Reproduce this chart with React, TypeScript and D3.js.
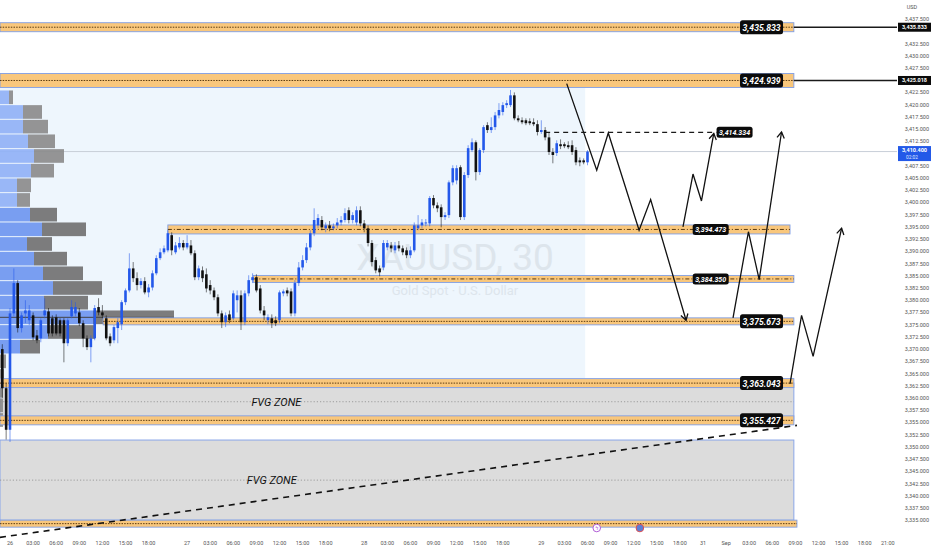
import React from 'react';
import * as d3 from 'd3';

const W = 932;
const H = 550;
const PLOT_RIGHT = 897;
const PLOT_BOTTOM = 533;

// 30 minute XAUUSD bars [open, high, low, close]; first bar starts at trading hour -1
const firstBarHour = -1;
const barHours = 0.5;
const candles: [number, number, number, number][] = [
  [3370.0, 3371.0, 3360.0, 3362.0], [3362.0, 3363.0, 3351.5, 3353.5], [3353.5, 3378.4, 3351.0, 3377.3],
  [3377.3, 3386.5, 3376.7, 3383.5], [3383.5, 3384.1, 3373.4, 3374.3], [3374.3, 3377.5, 3373.4, 3376.9],
  [3377.3, 3380.0, 3375.3, 3377.9], [3375.9, 3379.0, 3374.9, 3377.9], [3376.9, 3377.5, 3371.8, 3372.4],
  [3372.8, 3373.9, 3371.2, 3371.8], [3372.2, 3376.3, 3371.4, 3375.9], [3376.9, 3380.4, 3376.3, 3377.9],
  [3377.7, 3378.4, 3372.6, 3373.2], [3376.3, 3376.9, 3372.6, 3373.2], [3376.5, 3377.1, 3372.8, 3373.2],
  [3375.9, 3376.3, 3372.6, 3373.2], [3375.9, 3376.3, 3367.3, 3371.2], [3371.2, 3376.3, 3370.6, 3375.9],
  [3376.7, 3380.0, 3376.3, 3378.6], [3377.3, 3379.6, 3376.7, 3378.6], [3377.5, 3378.4, 3374.7, 3375.3],
  [3375.3, 3375.9, 3370.4, 3372.2], [3372.2, 3372.8, 3369.8, 3370.4], [3370.4, 3372.8, 3367.3, 3372.2],
  [3372.2, 3379.0, 3371.8, 3378.4], [3378.6, 3380.4, 3376.9, 3377.5], [3377.5, 3379.0, 3376.3, 3376.9],
  [3376.3, 3376.9, 3371.8, 3372.2], [3372.6, 3373.2, 3370.6, 3371.2], [3371.8, 3374.9, 3371.2, 3374.5],
  [3374.3, 3376.3, 3371.2, 3375.5], [3375.1, 3380.0, 3373.9, 3379.6], [3379.6, 3382.4, 3379.0, 3382.0],
  [3382.0, 3389.6, 3381.6, 3386.5], [3386.5, 3387.8, 3383.7, 3384.5], [3384.5, 3385.7, 3382.0, 3383.1],
  [3383.1, 3384.5, 3382.4, 3383.9], [3383.9, 3384.7, 3381.2, 3381.6], [3381.6, 3383.3, 3380.6, 3382.6],
  [3382.6, 3386.1, 3382.0, 3385.5], [3385.5, 3389.2, 3385.1, 3388.6], [3388.6, 3390.6, 3388.2, 3389.8],
  [3389.8, 3391.2, 3389.4, 3390.6], [3390.2, 3394.3, 3389.8, 3393.7], [3393.3, 3393.9, 3389.2, 3390.2],
  [3389.8, 3391.9, 3389.4, 3391.2], [3390.8, 3392.9, 3390.4, 3391.7], [3391.7, 3392.3, 3390.2, 3390.8],
  [3390.8, 3393.3, 3390.4, 3391.7], [3391.2, 3392.3, 3389.2, 3389.6], [3389.6, 3390.2, 3384.1, 3384.7],
  [3384.7, 3387.1, 3384.1, 3386.5], [3386.1, 3386.9, 3383.7, 3384.5], [3385.3, 3386.5, 3381.6, 3382.4],
  [3383.1, 3384.1, 3381.2, 3382.0], [3382.0, 3382.6, 3380.0, 3380.6], [3380.6, 3381.2, 3376.7, 3377.3],
  [3377.3, 3377.9, 3374.3, 3375.5], [3375.5, 3377.5, 3374.5, 3376.9], [3377.1, 3377.9, 3375.3, 3375.9],
  [3376.3, 3382.0, 3375.9, 3381.4], [3380.0, 3382.0, 3377.5, 3381.0], [3381.0, 3382.0, 3373.9, 3375.5],
  [3375.5, 3382.0, 3374.9, 3381.4], [3381.4, 3385.1, 3380.8, 3384.1], [3384.1, 3385.5, 3383.5, 3384.7],
  [3384.7, 3385.3, 3381.6, 3382.0], [3382.4, 3383.1, 3377.3, 3377.9], [3377.9, 3378.8, 3375.9, 3376.9],
  [3375.9, 3377.1, 3375.1, 3376.5], [3376.3, 3377.1, 3374.3, 3375.3], [3375.9, 3376.7, 3374.7, 3375.3],
  [3375.9, 3382.0, 3375.3, 3381.6], [3381.4, 3382.2, 3380.8, 3381.8], [3382.0, 3382.6, 3380.8, 3381.4],
  [3381.8, 3382.4, 3376.7, 3377.3], [3377.3, 3384.1, 3376.7, 3383.5], [3383.5, 3387.8, 3382.9, 3386.7],
  [3386.7, 3389.2, 3386.1, 3388.2], [3388.2, 3391.7, 3387.6, 3390.8], [3390.8, 3394.3, 3390.2, 3393.7],
  [3393.7, 3398.8, 3393.1, 3396.4], [3395.3, 3397.6, 3394.7, 3396.8], [3396.4, 3397.2, 3394.3, 3394.9],
  [3394.7, 3395.9, 3393.9, 3395.3], [3395.3, 3396.2, 3394.1, 3394.7], [3394.7, 3395.7, 3394.3, 3395.1],
  [3395.3, 3396.8, 3394.7, 3395.9], [3395.9, 3397.2, 3395.3, 3396.4], [3396.4, 3398.8, 3395.9, 3397.8],
  [3398.4, 3399.0, 3395.7, 3396.4], [3396.4, 3398.0, 3395.7, 3397.4], [3395.9, 3399.2, 3395.3, 3398.4],
  [3398.4, 3399.2, 3395.1, 3395.7], [3395.7, 3396.4, 3393.9, 3394.7], [3394.7, 3395.3, 3391.0, 3391.7],
  [3391.7, 3392.3, 3386.9, 3387.8], [3388.2, 3388.8, 3385.5, 3386.1], [3386.5, 3387.1, 3384.9, 3385.7],
  [3386.7, 3392.3, 3386.1, 3391.7], [3390.8, 3392.3, 3390.2, 3391.7], [3391.2, 3391.9, 3389.8, 3390.6],
  [3390.2, 3391.9, 3389.6, 3391.2], [3391.2, 3392.1, 3390.0, 3390.6], [3390.6, 3391.2, 3389.2, 3389.8],
  [3390.2, 3390.8, 3388.6, 3389.2], [3389.2, 3391.0, 3388.6, 3390.2], [3390.2, 3395.9, 3389.8, 3395.3],
  [3394.7, 3397.4, 3394.3, 3395.3], [3395.3, 3396.6, 3394.7, 3395.9], [3395.7, 3396.6, 3395.1, 3395.9],
  [3395.7, 3401.3, 3395.1, 3400.9], [3400.9, 3401.5, 3398.8, 3399.4], [3399.4, 3400.0, 3398.0, 3398.8],
  [3399.0, 3399.6, 3394.9, 3397.0], [3397.0, 3398.0, 3396.4, 3397.4], [3397.4, 3404.5, 3396.8, 3404.1],
  [3404.1, 3407.6, 3403.5, 3407.0], [3404.5, 3407.6, 3403.7, 3407.0], [3407.2, 3407.6, 3396.4, 3397.0],
  [3397.0, 3406.2, 3396.4, 3405.6], [3405.6, 3411.7, 3405.0, 3411.1], [3410.7, 3413.1, 3410.3, 3412.3],
  [3412.3, 3412.7, 3404.5, 3406.2], [3406.2, 3411.1, 3405.6, 3410.7], [3410.7, 3415.8, 3410.1, 3415.4],
  [3415.8, 3416.4, 3414.2, 3414.8], [3414.8, 3417.4, 3414.2, 3415.4], [3415.4, 3418.5, 3414.8, 3417.8],
  [3417.8, 3420.3, 3417.2, 3418.9], [3418.5, 3420.5, 3417.8, 3419.9], [3419.9, 3420.9, 3419.3, 3420.3],
  [3419.9, 3423.0, 3419.5, 3421.9], [3421.9, 3422.5, 3416.8, 3417.2], [3417.2, 3417.8, 3416.4, 3416.8],
  [3416.8, 3417.4, 3416.0, 3416.4], [3416.8, 3417.2, 3415.8, 3416.2], [3416.6, 3417.2, 3415.8, 3416.2],
  [3416.4, 3417.2, 3415.6, 3416.0], [3416.0, 3416.8, 3413.7, 3414.4], [3414.4, 3416.8, 3414.0, 3414.8],
  [3414.8, 3415.4, 3412.7, 3413.3], [3413.3, 3414.2, 3409.7, 3410.3], [3410.3, 3411.1, 3408.0, 3409.7],
  [3410.1, 3412.7, 3409.5, 3412.1], [3411.9, 3412.9, 3410.9, 3411.5], [3411.9, 3412.3, 3411.1, 3411.5],
  [3411.7, 3412.5, 3410.9, 3411.3], [3411.7, 3412.7, 3409.7, 3410.3], [3410.7, 3411.3, 3407.6, 3408.2],
  [3408.6, 3409.2, 3407.4, 3408.2], [3408.6, 3409.0, 3407.8, 3408.2], [3408.2, 3410.7, 3407.6, 3410.4],
];

// visible range volume profile, 3.0 bins from 3423 downward
const vpTop = 3423;
const vpBin = 3;
const vpUp = [90, 230, 230, 280, 340, 310, 170, 170, 300, 420, 270, 340, 430, 530, 440, 930, 480, 200, 0, 0, 0, 0, 0];
const vpDown = [40, 190, 250, 270, 300, 230, 140, 130, 270, 440, 250, 330, 400, 490, 440, 810, 470, 200, 60, 40, 30, 30, 30];

// drawn horizontal levels
const levelPrices = [3435.833, 3424.939, 3394.473, 3384.35, 3375.673, 3363.043, 3355.427, 3334.3];
const levelStartHour = [-1.3, -1.3, 20.5, 31.6, 12.1, -1.3, -1.3, -1.3];
const levelEndHour = [101.8, 101.8, 101.3, 101.8, 101.8, 101.8, 101.8, 102.2];
const levelLabelHour = [97.6, 97.6, 91.0, 91.0, 97.6, 97.6, 97.6, -1];
const levelAxisTag = ['3,435.833', '3,425.018'];

const targetPrice = 3414.334;
const targetStartHour = 69.5;
const targetLabelHour = 94.1;

const lastPriceValue = 3410.4;
const lastPrice = '3,410.400';
const countdown = '02:02';

// fair value gap boxes [top, bottom]
const fvgBoxes: [number, number][] = [[3363.043, 3355.427], [3351.4, 3335.0]];

// range box behind the session
const rangeBox = { fromHour: -1.3, toHour: 74.7, top: 3423.4, bottom: 3364.0 };

// projected paths [hour, price]
const paths: [number, number][][] = [
  [[72.3, 3424.3], [76.2, 3406.6], [77.7, 3414.2], [81.7, 3394.3], [83.2, 3400.6], [87.8, 3375.9]],
  [[87.4, 3395.0], [88.7, 3405.8], [89.8, 3400.3], [91.4, 3414.1]],
  [[93.9, 3376.4], [95.9, 3394.0], [97.3, 3384.2], [100.2, 3414.4]],
  [[101.3, 3362.9], [102.8, 3376.9], [104.3, 3368.5], [108.0, 3394.7]],
];

const trendLine: [number, number][] = [[-1.3, 3331.5], [102.2, 3354.4]];

const tickHours = [0, 3, 6, 9, 12, 15, 18, 23, 26, 29, 32, 35, 38, 41, 46, 49, 52, 55, 58, 61, 64, 69, 72, 75, 78, 81, 84, 87, 90, 93, 96, 99, 102, 105, 108, 111, 114];
const tickLabels = ['26', '03:00', '06:00', '09:00', '12:00', '15:00', '18:00', '27', '03:00', '06:00', '09:00', '12:00', '15:00', '18:00', '28', '03:00', '06:00', '09:00', '12:00', '15:00', '18:00', '29', '03:00', '06:00', '09:00', '12:00', '15:00', '18:00', '31', 'Sep', '03:00', '06:00', '09:00', '12:00', '15:00', '18:00', '21:00'];

const eventHours = [76.2, 81.8];

const x = d3.scaleLinear().domain([0, 114]).range([10, 887.8]);
const y = d3.scaleLinear().domain([3441.4, 3333.0]).range([0, 530]);
const vx = d3.scaleLinear().domain([0, 1740]).range([0, 174]);
const fmt = d3.format(',.3f');

const bandHalf = [4.5, 7, 4.5, 3.5, 3.5, 4.5, 4.5, 3.5];
const bandDash = ['1.5,1.2', '1.5,1.2', '4,2,1,2', '4,2,1,2', '1.5,1.2', '1.5,1.2', '1.5,1.2', '1.5,1.2'];
const bigLabel = [true, true, false, false, true, true, true, false];

const FONT = 'Roboto, "Liberation Sans", sans-serif';
const UP = '#2358ea';
const DOWN = '#111111';

function arrowHead(pts: [number, number][]) {
  const [x1, y1] = pts[pts.length - 2];
  const [x2, y2] = pts[pts.length - 1];
  const a = Math.atan2(y2 - y1, x2 - x1);
  const L = 7;
  const p1 = [x2 - L * Math.cos(a - 0.55), y2 - L * Math.sin(a - 0.55)];
  const p2 = [x2 - L * Math.cos(a + 0.55), y2 - L * Math.sin(a + 0.55)];
  return `M${p1[0]},${p1[1]}L${x2},${y2}L${p2[0]},${p2[1]}`;
}

function LabelBox({ cx, cy, text, big }: { cx: number; cy: number; text: string; big: boolean }) {
  const w = big ? 43 : 36;
  const h = big ? 14 : 11;
  return (
    <g>
      <rect x={cx - w / 2} y={cy - h / 2} width={w} height={h} rx={2.5} fill="#0b0b0b" />
      <text x={cx} y={cy + (big ? 3.4 : 2.6)} textAnchor="middle" fill="#fff" fontFamily={FONT}
        fontStyle="italic" fontWeight="bold" fontSize={big ? 9.5 : 7.2}
        textLength={big ? 38 : 31} lengthAdjust="spacingAndGlyphs">{text}</text>
    </g>
  );
}

export default function App() {
  // value area (70%) expanding from the point of control
  const totals = vpUp.map((u, i) => u + vpDown[i]);
  const poc = totals.indexOf(d3.max(totals) as number);
  const target = d3.sum(totals) * 0.7;
  let lo = poc, hi = poc, acc = totals[poc];
  while (acc < target) {
    const up = lo > 0 ? totals[lo - 1] : -1;
    const dn = hi < totals.length - 1 ? totals[hi + 1] : -1;
    if (up < 0 && dn < 0) break;
    if (up >= dn) { lo -= 1; acc += up; } else { hi += 1; acc += dn; }
  }

  const line = d3.line<[number, number]>().x(d => x(d[0])).y(d => y(d[1]));
  // axis labels hidden where a price tag sits
  const tagYs = [y(levelPrices[0]), y(levelPrices[1]), y(lastPriceValue) + 2];
  const yTicks = d3.range(3335, 3437.6, 2.5).filter(t => tagYs.every(ty => Math.abs(y(t) - ty) > 8));

  return (
    <svg width={W} height={H} style={{ position: 'absolute', left: 0, top: 0, background: '#fff' }}>
      <rect width={W} height={H} fill="#fff" />

      {/* session range box */}
      <rect x={0} y={y(rangeBox.top)} width={x(rangeBox.toHour)}
        height={y(rangeBox.bottom) - y(rangeBox.top)} fill="#eef6fd" />

      {/* FVG boxes */}
      {fvgBoxes.map(([t, b], i) => (
        <g key={'fvg' + i}>
          <rect x={0} y={y(t)} width={x(levelEndHour[6])} height={y(b) - y(t)} fill="#dcdcdc" stroke="#8aa6e8" strokeWidth={1} />
          <line x1={0} x2={x(levelEndHour[6])} y1={y((t + b) / 2)} y2={y((t + b) / 2)} stroke="#8d8d8d" strokeWidth={0.8} strokeDasharray="1.2,2" />
          <text x={x(i === 0 ? 34.6 : 34.0)} y={y((t + b) / 2) + 4} textAnchor="middle" fontFamily={FONT}
            fontStyle="italic" fontSize={11} fill="#111">FVG ZONE</text>
        </g>
      ))}

      {/* watermark */}
      <text x={455} y={270} textAnchor="middle" fontFamily={FONT} fontSize={37} fill="#dde5ec">XAUUSD, 30</text>
      <text x={455} y={295} textAnchor="middle" fontFamily={FONT} fontSize={13} fill="#dde5ec">Gold Spot · U.S. Dollar</text>

      {/* last price line */}
      <line x1={0} x2={PLOT_RIGHT} y1={y(lastPriceValue)} y2={y(lastPriceValue)} stroke="#c8ced8" strokeWidth={1} />

      {/* volume profile */}
      {vpUp.map((u, i) => {
        const top = y(vpTop - i * vpBin) + 0.5;
        const h = y(vpTop - (i + 1) * vpBin) - y(vpTop - i * vpBin) - 1;
        const inVA = i >= lo && i <= hi;
        return (
          <g key={'vp' + i}>
            <rect x={0} y={top} width={vx(u)} height={h} fill={inVA ? '#6c95f0' : '#8fb0f6'} opacity={0.9} />
            <rect x={vx(u)} y={top} width={vx(vpDown[i])} height={h} fill={inVA ? '#6f6f6f' : '#8a8a8a'} opacity={0.9} />
          </g>
        );
      })}
      <line x1={0} x2={vx(totals[poc])} y1={y(vpTop - (poc + 0.5) * vpBin)} y2={y(vpTop - (poc + 0.5) * vpBin)} stroke="#444" strokeWidth={1} />

      {/* level bands */}
      {levelPrices.map((p, i) => {
        const cy = y(p);
        const x0 = Math.max(0, x(levelStartHour[i]));
        const x1 = x(levelEndHour[i]);
        return (
          <g key={'lv' + i}>
            <rect x={x0} y={cy - bandHalf[i]} width={x1 - x0} height={bandHalf[i] * 2} fill="#f9c77c" stroke="#7f9ee6" strokeWidth={0.9} />
            <line x1={x0} x2={x1} y1={cy} y2={cy} stroke="#5a3a10" strokeWidth={1} strokeDasharray={bandDash[i]} />
          </g>
        );
      })}

      {/* candles */}
      {candles.map(([o, h, l, c], j) => {
        const cx = x(firstBarHour + j * barHours);
        const col = c >= o ? UP : DOWN;
        const top = y(Math.max(o, c));
        const bh = Math.max(1, y(Math.min(o, c)) - top);
        return (
          <g key={'c' + j}>
            <line x1={cx} x2={cx} y1={y(h)} y2={y(l)} stroke={col} strokeOpacity={0.55} strokeWidth={1} />
            <rect x={cx - 1.3} y={top} width={2.6} height={bh} fill={col} />
          </g>
        );
      })}

      {/* trend line */}
      <path d={line(trendLine) as string} stroke="#111" strokeWidth={1.6} strokeDasharray="6,5" fill="none" />

      {/* target dashed line */}
      <line x1={x(targetStartHour)} x2={x(targetLabelHour) - 18} y1={y(targetPrice)} y2={y(targetPrice)} stroke="#1a1a1a" strokeWidth={1.3} strokeDasharray="5,4" />

      {/* right rays to axis */}
      {[0, 1].map(i => (
        <line key={'ray' + i} x1={x(levelEndHour[i])} x2={PLOT_RIGHT} y1={y(levelPrices[i])} y2={y(levelPrices[i])} stroke="#1a1a1a" strokeWidth={1.5} />
      ))}

      {/* projected paths */}
      {paths.map((pts, i) => {
        const px = pts.map(d => [x(d[0]), y(d[1])] as [number, number]);
        return (
          <g key={'p' + i}>
            <path d={line(pts) as string} stroke="#111" strokeWidth={1.3} fill="none" strokeLinejoin="miter" />
            <path d={arrowHead(px)} stroke="#111" strokeWidth={1.3} fill="none" />
          </g>
        );
      })}

      {/* level labels */}
      {levelPrices.map((p, i) => levelLabelHour[i] < 0 ? null : (
        <LabelBox key={'lb' + i} cx={x(levelLabelHour[i])} cy={y(p)} text={fmt(p)} big={bigLabel[i]} />
      ))}
      <LabelBox cx={x(targetLabelHour)} cy={y(targetPrice)} text={fmt(targetPrice)} big={false} />

      {/* price axis */}
      <text x={912} y={9} textAnchor="middle" fontFamily={FONT} fontSize={5.5} fill="#555">USD</text>
      {yTicks.map(t => (
        <text key={'yt' + t} x={929} y={y(t) + 2} textAnchor="end" fontFamily={FONT} fontSize={5.5} fill="#555">{fmt(t)}</text>
      ))}
      {[0, 1].map(i => (
        <g key={'tag' + i}>
          <rect x={898} y={y(levelPrices[i]) - 4.5} width={33} height={9} fill="#0b0b0b" />
          <text x={914.5} y={y(levelPrices[i]) + 2} textAnchor="middle" fontFamily={FONT} fontSize={5.5} fontWeight="bold" fill="#fff">{levelAxisTag[i]}</text>
        </g>
      ))}
      <rect x={898} y={y(lastPriceValue) - 5.5} width={33} height={15} fill="#2359e8" />
      <text x={914.5} y={y(lastPriceValue) + 0.8} textAnchor="middle" fontFamily={FONT} fontSize={5.5} fontWeight="bold" fill="#fff">{lastPrice}</text>
      <text x={906} y={y(lastPriceValue) + 7.8} textAnchor="start" fontFamily={FONT} fontSize={4.8} fill="#dfe6ff">{countdown}</text>

      {/* time axis */}
      {tickHours.map((h, i) => (
        <text key={'xt' + i} x={x(h)} y={545} textAnchor="middle" fontFamily={FONT} fontSize={5.5} fill="#555">{tickLabels[i]}</text>
      ))}
      <circle cx={x(eventHours[0])} cy={PLOT_BOTTOM - 5} r={3.8} fill="#fff" stroke="#b05cd6" strokeWidth={1} />
      <text x={x(eventHours[0])} y={PLOT_BOTTOM - 3} textAnchor="middle" fontSize={5} fill="#b05cd6" fontFamily={FONT}>ϟ</text>
      <circle cx={x(eventHours[1])} cy={PLOT_BOTTOM - 5} r={3.8} fill="#5b7fd6" stroke="#e05050" strokeWidth={1} />
    </svg>
  );
}
